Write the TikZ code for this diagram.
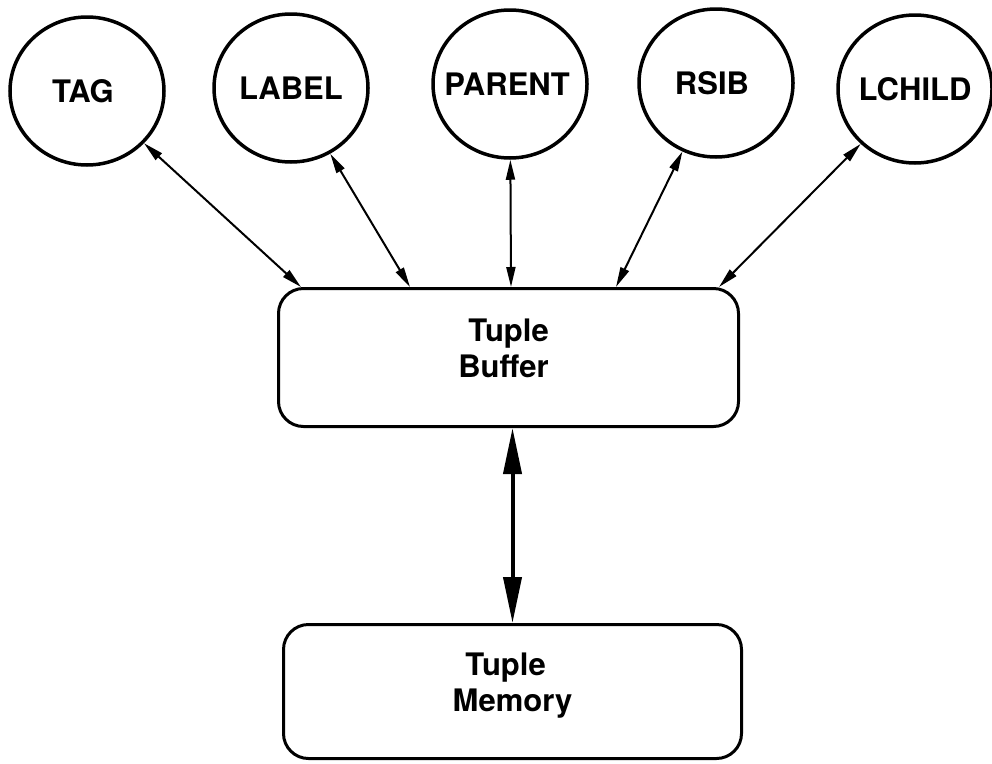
\documentclass[tikz,border=0pt]{standalone}
\usepackage{fontspec}
\setmainfont{TeX Gyre Heros}
\usetikzlibrary{shapes.geometric,arrows.meta}
\begin{document}
\begin{tikzpicture}[x=1pt,y=-1pt,
 every node/.style={font=\fontsize{31}{36}\selectfont\bfseries},
 field/.style={draw, ellipse, line width=3.5pt, minimum width=154pt, minimum height=148pt, inner sep=0pt},
 unit/.style={draw, rounded corners=25pt, line width=3pt, align=center, inner sep=0pt, text depth=18pt},
 link/.style={line width=2pt, {Triangle[length=20pt,width=9pt]}-{Triangle[length=20pt,width=9pt]}},
 bus/.style={line width=4pt, {Triangle[length=46pt,width=18pt]}-{Triangle[length=46pt,width=18pt]}}]
\useasboundingbox (0,0) rectangle (992,763);
\node[field] (tag) at (87,91) {\makebox[0pt]{TAG\kern8pt}};
\node[field] (label) at (291,88) {\makebox[0pt]{LABEL}};
\node[field] (parent) at (510,84) {\makebox[0pt]{PARENT\kern6pt}};
\node[field] (rsib) at (716,83) {\makebox[0pt]{RSIB\kern8pt}};
\node[field] (lchild) at (915,89) {\makebox[0pt]{LCHILD}};
\node[unit, minimum width=460pt, minimum height=138pt] (buf) at (508.5,357.5) {Tuple\\Buffer\kern10pt};
\node[unit, minimum width=458pt, minimum height=134pt] (mem) at (512.5,691.5) {Tuple\kern14pt\\Memory};
\coordinate (b1) at ([xshift=-207.5pt]buf.north);
\coordinate (b2) at ([xshift=-98.5pt]buf.north);
\coordinate (b3) at ([xshift=2.5pt]buf.north);
\coordinate (b4) at ([xshift=107.5pt]buf.north);
\coordinate (b5) at ([xshift=210.5pt]buf.north);
\draw[link] (tag) -- (b1);
\draw[link] (label) -- (b2);
\draw[link] (parent) -- (b3);
\draw[link] (rsib) -- (b4);
\draw[link] (lchild) -- (b5);
\draw[bus] (mem.north |- buf.south) -- (mem.north);
\end{tikzpicture}
\end{document}
